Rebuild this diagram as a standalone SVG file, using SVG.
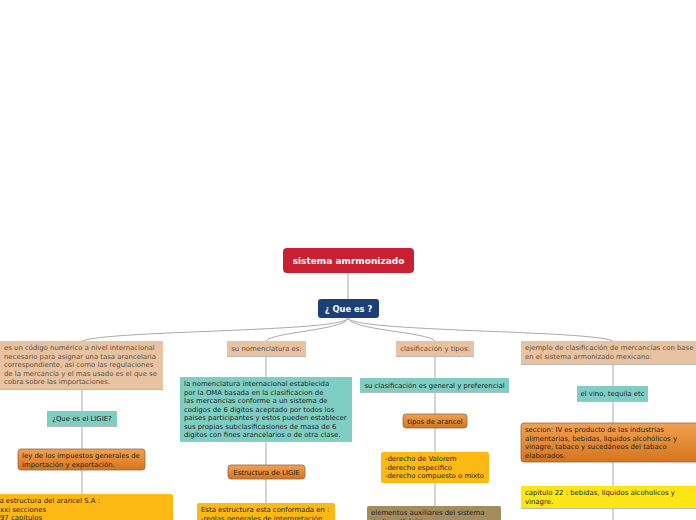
<svg xmlns="http://www.w3.org/2000/svg" width="696" height="520" viewBox="0 0 696 520">
<defs>
<linearGradient id="og" x1="0" y1="0" x2="0" y2="1">
<stop offset="0" stop-color="#f2a150"/>
<stop offset="1" stop-color="#d6741c"/>
</linearGradient>
<style>
text{font-family:"DejaVu Sans","Liberation Sans",sans-serif;font-size:6.9px;fill:#333}
.tan{fill:#e8c3a1}
.teal{fill:#7fcec3}
.amb{fill:#fdb913}
.yel{fill:#fee615}
.brn{fill:#a38c5e}
.org{fill:url(#og);stroke:#8b6b4f;stroke-width:0.8}
.sh{stroke:#b9b9b9;stroke-width:1}
.t1{fill:#654f3e}
.t2{fill:#222}
.hd{font-weight:bold;fill:#fff;text-anchor:middle}
.c{text-anchor:middle}
#connectors path,#connectors line{fill:none;stroke:#aaaaaa;stroke-width:1}
</style>
</defs>
<rect width="696" height="520" fill="#ffffff"/>
<g id="connectors">
<line x1="348" y1="273" x2="348" y2="299"/>
<path d="M348,318 C346,332 110,330 82,341"/>
<path d="M348,318 C346,330 272,332 266,341"/>
<path d="M348,318 C350,330 428,332 435,341"/>
<path d="M348,318 C352,332 590,330 613,341"/>
<line x1="82" y1="389" x2="82" y2="411"/>
<line x1="82" y1="426" x2="82" y2="449"/>
<line x1="82" y1="470" x2="82" y2="494"/>
<line x1="266" y1="356" x2="266" y2="377"/>
<line x1="266" y1="441" x2="266" y2="465"/>
<line x1="266" y1="479" x2="266" y2="503"/>
<line x1="435" y1="356" x2="435" y2="378"/>
<line x1="435" y1="392" x2="435" y2="414"/>
<line x1="435" y1="428" x2="435" y2="452"/>
<line x1="435" y1="483" x2="435" y2="506"/>
<line x1="613" y1="364" x2="613" y2="386"/>
<line x1="613" y1="401" x2="613" y2="423"/>
<line x1="613" y1="462" x2="613" y2="486"/>
<line x1="613" y1="508" x2="613" y2="520"/>
</g>
<g id="root">
<rect x="283" y="248" width="131" height="25" rx="4" fill="#c91f32"/>
<text x="348.5" y="264" class="hd" style="font-size:9px">sistema amrmonizado</text>
</g>
<g id="quees">
<rect x="318" y="299" width="61" height="19" rx="3" fill="#1c3f74"/>
<text x="348.5" y="311.5" class="hd" style="font-size:8.3px">¿ Que es ?</text>
</g>
<g id="n-codigo">
<rect x="0" y="341" width="163" height="48" class="tan"/>
<line x1="0" y1="389.5" x2="163" y2="389.5" class="sh"/>
<text x="4" y="350" class="t1">es un código numérico a nivel internacional</text>
<text x="4" y="358.5" class="t1">necesario para asignar una tasa arancelaria</text>
<text x="4" y="367" class="t1">correspondiente, así como las regulaciones</text>
<text x="4" y="375.5" class="t1">de la mercancía y el mas usado es el que se</text>
<text x="4" y="384" class="t1">cobra sobre las importaciones.</text>
</g>
<g id="n-ligie">
<rect x="47" y="411" width="70" height="15" class="teal"/>
<line x1="47" y1="426.5" x2="117" y2="426.5" class="sh"/>
<text x="82" y="421" class="c t2">¿Que es el LIGIE?</text>
</g>
<g id="n-ley">
<rect x="18" y="449" width="127" height="21" rx="3" class="org"/>
<text x="22" y="458" class="t2">ley de los impuestos generales de</text>
<text x="22" y="466.5" class="t2">importación y exportación.</text>
</g>
<g id="n-estructura-arancel">
<rect x="-4" y="494" width="177" height="30" rx="2" class="amb"/>
<text x="-2.5" y="503" class="t2">la estructura del arancel S.A :</text>
<text x="-2.5" y="511.5" class="t2">-xxi secciones</text>
<text x="-2.5" y="520" class="t2">-97 capitulos</text>
</g>
<g id="n-nomenclatura">
<rect x="227" y="341" width="79" height="15" class="tan"/>
<line x1="227" y1="356.5" x2="306" y2="356.5" class="sh"/>
<text x="266.5" y="351" class="c t1">su nomenclatura es:</text>
</g>
<g id="n-oma">
<rect x="180" y="377" width="172" height="64" class="teal"/>
<line x1="180" y1="441.5" x2="352" y2="441.5" class="sh"/>
<text x="184" y="386" class="t2">la nomenclatura internacional establecida</text>
<text x="184" y="394.5" class="t2">por la OMA basada en la clasificacion de</text>
<text x="184" y="403" class="t2">las mercancias conforme a un sistema de</text>
<text x="184" y="411.5" class="t2">codigos de 6 digitos aceptado por todos los</text>
<text x="184" y="420" class="t2">paises participantes y estos pueden establecer</text>
<text x="184" y="428.5" class="t2">sus propias subclasificasiones de masa de 6</text>
<text x="184" y="437" class="t2">digitos con fines arancelarios o de otra clase.</text>
</g>
<g id="n-estructura-ligie">
<rect x="228" y="465" width="77" height="14" rx="3" class="org"/>
<text x="266.5" y="474.5" class="c t2">Estructura de LIGIE</text>
</g>
<g id="n-conformada">
<rect x="197" y="503" width="138" height="22" rx="2" class="amb"/>
<text x="201" y="512" class="t2">Esta estructura esta conformada en :</text>
<text x="201" y="520.5" class="t2">-reglas generales de interpretación</text>
</g>
<g id="n-clasificacion">
<rect x="396" y="341" width="78" height="15" class="tan"/>
<line x1="396" y1="356.5" x2="474" y2="356.5" class="sh"/>
<text x="435" y="351" class="c t1">clasificación y tipos:</text>
</g>
<g id="n-general">
<rect x="360" y="378" width="149" height="14" class="teal"/>
<line x1="360" y1="392.5" x2="509" y2="392.5" class="sh"/>
<text x="434.5" y="387.5" class="c t2">su clasificación es general y preferencial</text>
</g>
<g id="n-tipos">
<rect x="403" y="414" width="64" height="14" rx="3" class="org"/>
<text x="435" y="423.5" class="c t2">tipos de arancel</text>
</g>
<g id="n-derechos">
<rect x="381" y="452" width="108" height="31" rx="2" class="amb"/>
<text x="385" y="461" class="t2">-derecho de Valorem</text>
<text x="385" y="469.5" class="t2">-derecho especifico</text>
<text x="385" y="478" class="t2">-derecho compuesto o mixto</text>
</g>
<g id="n-auxiliares">
<rect x="367" y="506" width="134" height="20" rx="2" class="brn"/>
<text x="371" y="515" class="t2">elementos auxiliares del sistema</text>
<text x="371" y="523.5" class="t2">-indice alfabético</text>
</g>
<g id="n-ejemplo">
<rect x="521" y="341" width="180" height="23" class="tan"/>
<line x1="521" y1="364.5" x2="696" y2="364.5" class="sh"/>
<text x="525" y="350" class="t1">ejemplo de clasificación de mercancías con base</text>
<text x="525" y="358.5" class="t1">en el sistema armonizado mexicano:</text>
</g>
<g id="n-vino">
<rect x="577" y="386" width="71" height="15" class="teal"/>
<line x1="577" y1="401.5" x2="648" y2="401.5" class="sh"/>
<text x="612.5" y="396" class="c t2">el vino, tequila etc</text>
</g>
<g id="n-seccion">
<rect x="521" y="423" width="180" height="39" rx="3" class="org"/>
<text x="525" y="432" class="t2">seccion: IV es producto de las industrias</text>
<text x="525" y="440.5" class="t2">alimentarias, bebidas, liquidos alcohólicos y</text>
<text x="525" y="449" class="t2">vinagre, tabaco y sucedáneos del tabaco</text>
<text x="525" y="457.5" class="t2">elaborados.</text>
</g>
<g id="n-capitulo">
<rect x="521" y="486" width="180" height="22" class="yel"/>
<line x1="521" y1="508.5" x2="696" y2="508.5" class="sh"/>
<text x="525" y="495" class="t2">capitulo 22 : bebidas, liquidos alcoholicos y</text>
<text x="525" y="503.5" class="t2">vinagre.</text>
</g>
</svg>
